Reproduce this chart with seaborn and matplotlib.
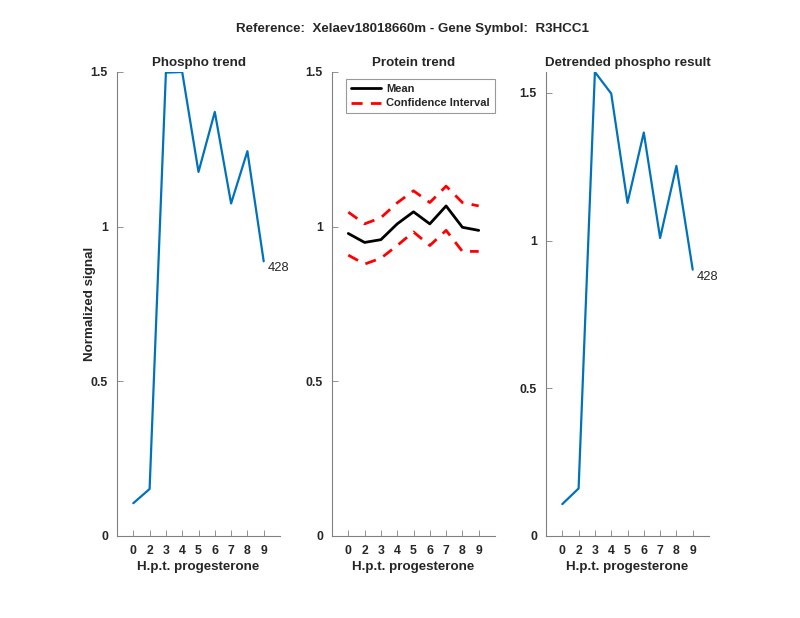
import matplotlib
matplotlib.use("Agg")
import matplotlib.pyplot as plt
import numpy as np
import pandas as pd
import seaborn as sns

# values
timepoints = ["0", "2", "3", "4", "5", "6", "7", "8", "9"]
phospho = [0.106, 0.152, 1.498, 1.500, 1.177, 1.371, 1.075, 1.244, 0.888]
protein_mean = [0.978, 0.949, 0.958, 1.009, 1.048, 1.009, 1.067, 0.998, 0.988]
protein_upper = [1.047, 1.009, 1.029, 1.077, 1.116, 1.078, 1.131, 1.078, 1.067]
protein_lower = [0.908, 0.879, 0.898, 0.939, 0.983, 0.939, 0.988, 0.920, 0.920]
detrended = [0.108, 0.161, 1.571, 1.498, 1.128, 1.366, 1.009, 1.253, 0.902]
peptide_id = "428"

sns.set_style("white")
plt.rcParams["font.family"] = ["Liberation Sans", "DejaVu Sans"]

pos = np.arange(1, len(timepoints) + 1)
df = pd.DataFrame({
    "pos": pos,
    "phospho": phospho,
    "mean": protein_mean,
    "upper": protein_upper,
    "lower": protein_lower,
    "detrended": detrended,
})

axcol = "#262626"
blue = "#0072BD"

fig = plt.figure(figsize=(8, 6.18), dpi=100)
W, H = 800, 618
rects = [
    [117 / W, (H - 536) / H, 163 / W, 464 / H],
    [332 / W, (H - 536) / H, 163 / W, 464 / H],
    [546 / W, (H - 536) / H, 163 / W, 464 / H],
]
axes = [fig.add_axes(r) for r in rects]


def style(ax, title, ytop):
    ax.set_xlim(0, len(timepoints) + 1)
    ax.set_ylim(0, ytop)
    ax.set_xticks(pos)
    ax.set_xticklabels(timepoints, fontweight="bold", fontsize=8.8, color=axcol)
    ax.set_yticks([0, 0.5, 1, 1.5])
    ax.set_yticklabels(["0", "0.5", "1", "1.5"], fontweight="bold", fontsize=8.8, color=axcol)
    ax.tick_params(direction="in", length=4, width=0.6, color="#808080", pad=6.5,
                   bottom=True, left=True)
    for s in ["top", "right"]:
        ax.spines[s].set_visible(False)
    for s in ["left", "bottom"]:
        ax.spines[s].set_color("#808080")
        ax.spines[s].set_linewidth(0.8)
    ax.set_title(title, fontweight="bold", fontsize=9.6, pad=4)
    ax.set_xlabel("H.p.t. progesterone", fontweight="bold", fontsize=9.6, labelpad=3, color=axcol)
    ax.set_ylabel("")


# phospho trend
ax = axes[0]
sns.lineplot(data=df, x="pos", y="phospho", color=blue, linewidth=1.6, ax=ax)
style(ax, "Phospho trend", max(phospho))
ax.set_ylabel("Normalized signal", fontweight="bold", fontsize=9.6, labelpad=-4, color=axcol)
ax.annotate(peptide_id, (pos[-1], phospho[-1]), xytext=(3, -5),
            textcoords="offset points", fontsize=9.3, va="center")

# protein trend
ax = axes[1]
sns.lineplot(data=df, x="pos", y="mean", color="black", linewidth=2, ax=ax, label="Mean")
sns.lineplot(data=df, x="pos", y="upper", color="red", linewidth=2, ax=ax,
             linestyle=(0, (4, 3)), label="Confidence Interval")
sns.lineplot(data=df, x="pos", y="lower", color="red", linewidth=2, ax=ax,
             linestyle=(0, (4, 3)))
style(ax, "Protein trend", 1.5)
leg = ax.legend(loc="upper left", bbox_to_anchor=(0.085, 0.985), fancybox=False,
                prop={"weight": "bold", "size": 8}, handlelength=2.7,
                borderpad=0.45, labelspacing=0.4, handletextpad=0.5,
                borderaxespad=0.0)
leg.get_frame().set_edgecolor("#808080")
leg.get_frame().set_linewidth(0.8)

# detrended result
ax = axes[2]
sns.lineplot(data=df, x="pos", y="detrended", color=blue, linewidth=1.6, ax=ax)
style(ax, "Detrended phospho result", max(detrended))
ax.annotate(peptide_id, (pos[-1], detrended[-1]), xytext=(3, -5),
            textcoords="offset points", fontsize=9.3, va="center")

fig.suptitle("Reference:  Xelaev18018660m - Gene Symbol:  R3HCC1",
             fontweight="bold", fontsize=9.6, x=0.515, y=0.962)

fig.savefig("out.png", dpi=100)
